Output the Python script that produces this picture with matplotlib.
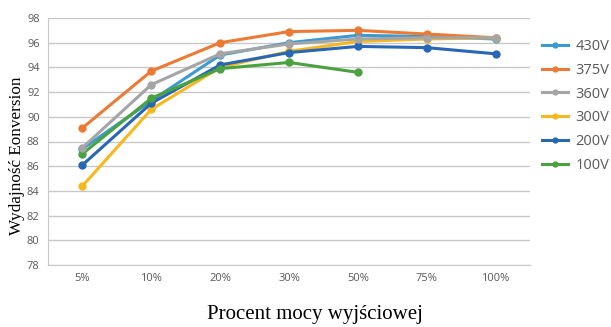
import matplotlib
matplotlib.use("Agg")
import matplotlib.pyplot as plt

categories = ["5%", "10%", "20%", "30%", "50%", "75%", "100%"]
s430 = [87.4, 91.3, 95.0, 96.0, 96.6, 96.5, 96.3]
s375 = [89.1, 93.7, 96.0, 96.9, 97.0, 96.7, 96.4]
s360 = [87.5, 92.6, 95.1, 95.9, 96.3, 96.4, 96.4]
s300 = [84.4, 90.6, 94.0, 95.3, 96.1, 96.3, 96.4]
s200 = [86.1, 91.1, 94.2, 95.2, 95.7, 95.6, 95.1]
s100 = [87.0, 91.5, 93.9, 94.4, 93.6]
labels = ["430V", "375V", "360V", "300V", "200V", "100V"]
colors = ["#3A9AD1", "#EC7A34", "#A5A5A5", "#F7B81F", "#2767B4", "#4AA23F"]
series = [s430, s375, s360, s300, s200, s100]

fig = plt.figure(figsize=(6.11, 3.27), dpi=100)
ax = fig.add_axes([48/611, 1-265/327, (530-48)/611, (265-18)/327])

x = list(range(len(categories)))
order = [0, 1, 3, 4, 5, 2]
handles = {}
for i in order:
    s = series[i]
    h, = ax.plot(x[:len(s)], s, color=colors[i], lw=2.2, marker="o", ms=5, label=labels[i], zorder=3)
    handles[i] = h

ax.set_xlim(-0.5, 6.5)
ax.set_ylim(78, 98)
ax.set_yticks(range(78, 99, 2))
ax.set_xticks(x)
ax.set_xticklabels(categories)
ax.yaxis.grid(True, color="#c8c8c8", lw=1)
ax.set_axisbelow(True)
for sp in ["top", "right"]:
    ax.spines[sp].set_visible(False)
ax.spines["left"].set_color("#c8c8c8")
ax.spines["bottom"].set_color("#c8c8c8")
ax.tick_params(axis="both", length=0, labelsize=8, colors="#595959", pad=6)
ax.tick_params(axis="x", pad=6)
for t in ax.get_xticklabels() + ax.get_yticklabels():
    t.set_fontfamily("Open Sans")

leg = fig.legend([handles[i] for i in range(6)], labels, loc="upper left",
                 bbox_to_anchor=(542/611, 1-39/327), frameon=False, handlelength=1.8,
                 handletextpad=0.5, labelspacing=0.6, borderpad=0, borderaxespad=0,
                 markerscale=0.7, prop={"family": "Open Sans", "size": 10.5})
for t in leg.get_texts():
    t.set_color("#595959")

fig.text(315/611, 1-315/327, "Procent mocy wyjściowej", ha="center", va="center",
         family="Liberation Serif", fontsize=15)
fig.text(17/611, 1-156/327, "Wydajność Eonversion", ha="center", va="center",
         rotation=90, family="Liberation Serif", fontsize=12.3)

fig.savefig("out.png", dpi=100)
